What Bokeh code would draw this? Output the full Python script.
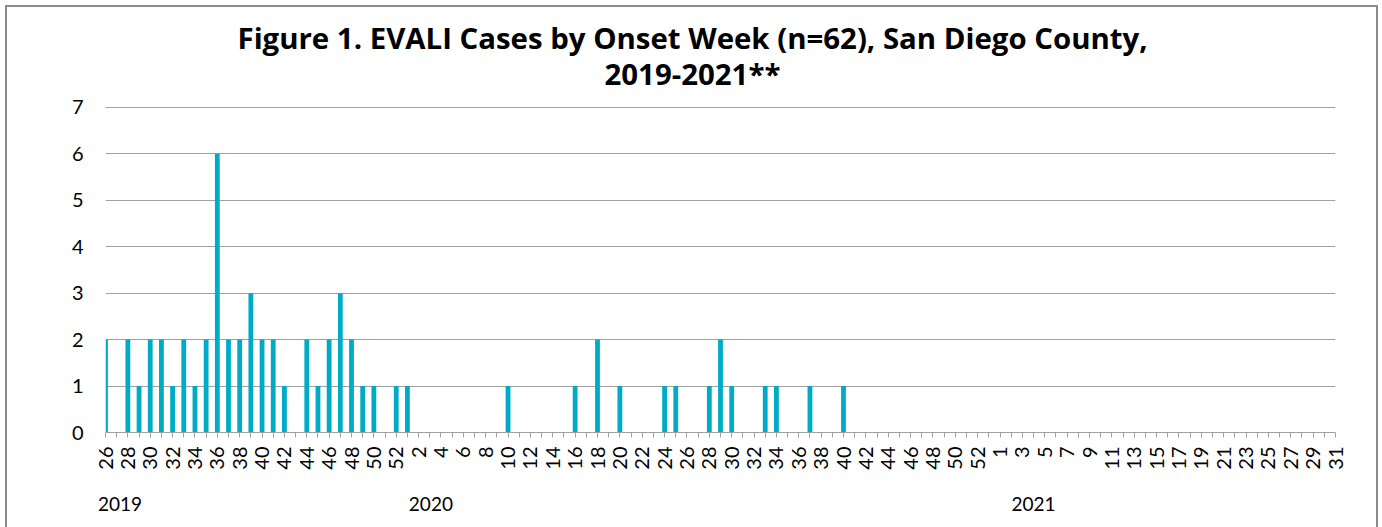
import math
from bokeh.plotting import figure
from bokeh.models import Range1d, FixedTicker, LinearAxis, Title, ColumnDataSource
from bokeh.embed import file_html
from bokeh.resources import INLINE

# ---- data ----
weeks_2019 = list(range(26, 53))
weeks_2020 = list(range(1, 54))
weeks_2021 = list(range(1, 32))

cases_2019 = [2, 0, 2, 1, 2, 2, 1, 2, 1, 2, 6, 2, 2, 3, 2, 2, 1, 0, 2, 1, 2, 3, 2, 1, 1, 0, 1]
cases_2020 = [1, 0, 0, 0, 0, 0, 0, 0, 0, 1,
              0, 0, 0, 0, 0, 1, 0, 2, 0, 1,
              0, 0, 0, 1, 1, 0, 0, 1, 2, 1,
              0, 0, 1, 1, 0, 0, 1, 0, 0, 1,
              0, 0, 0, 0, 0, 0, 0, 0, 0, 0, 0, 0, 0]
cases_2021 = [0, 0, 0, 0, 0, 0, 0, 0, 0, 0,
              0, 0, 0, 0, 0, 0, 0, 0, 0, 0,
              0, 0, 0, 0, 0, 0, 0, 0, 0, 0, 0]

years = ["2019", "2020", "2021"]
title_line1 = "Figure 1. EVALI Cases by Onset Week (n=62), San Diego County,"
title_line2 = "2019-2021**"

# ---- derived ----
week_labels = [str(w) for w in weeks_2019 + weeks_2020 + weeks_2021]
cases = cases_2019 + cases_2020 + cases_2021
idx = list(range(len(cases)))
src = ColumnDataSource(dict(x=idx, cases=cases, week=week_labels))

FONT = "Lato"
TFONT = "Open Sans"
GRAY = "#a0a0a0"

p = figure(width=1369, height=520, output_backend="svg", toolbar_location=None,
           x_range=Range1d(0, len(cases) - 1), y_range=Range1d(0, 7.02),
           min_border_left=98, min_border_right=41, min_border_top=99, min_border_bottom=95,
           title=title_line1)
p.styles = {"margin-left": "7px", "margin-top": "7px", "outline": "2px solid #8c8c8c"}
p.outline_line_color = None
p.background_fill_color = "white"
p.border_fill_color = "white"

p.vbar(x="x", top="cases", width=0.43, source=src, color="#00abc8", line_color=None)

# title lines
p.title.text_font = TFONT
p.title.text_font_size = "29.4px"
p.title.text_font_style = "bold"
p.title.text_color = "black"
p.title.align = "left"
p.title.offset = 132
p.title.standoff = -37
t2 = Title(text=title_line2, text_font=TFONT, text_font_size="29.4px", text_font_style="bold",
           text_color="black", align="left", offset=499, standoff=25)
p.add_layout(t2, "above")

# y axis
p.yaxis.ticker = FixedTicker(ticks=list(range(0, 8)))
p.yaxis.axis_line_color = None
p.yaxis.major_tick_line_color = None
p.yaxis.minor_tick_line_color = None
p.yaxis.major_label_text_font = FONT
p.yaxis.major_label_text_font_size = "20px"
p.yaxis.major_label_text_color = "black"
p.yaxis.major_label_standoff = 16
p.ygrid.ticker = FixedTicker(ticks=list(range(1, 8)))
p.ygrid.grid_line_color = GRAY
p.ygrid.grid_line_width = 1
p.xgrid.grid_line_color = None

# x axis (weeks)
xa = p.xaxis[0]
xa.ticker = FixedTicker(ticks=idx)
xa.major_label_overrides = {i: (lab if i % 2 == 0 else "") for i, lab in zip(idx, week_labels)}
xa.major_label_orientation = math.pi / 2
xa.axis_line_color = GRAY
xa.axis_line_width = 1
xa.major_tick_line_color = GRAY
xa.major_tick_out = 5
xa.major_tick_in = 0
xa.minor_tick_line_color = None
xa.major_label_text_font = FONT
xa.major_label_text_font_size = "20px"
xa.major_label_text_color = "black"
xa.major_label_standoff = 9

# year labels as a second axis below
year_pos = [1.3, 29.1, 83.0]
ya = LinearAxis(ticker=FixedTicker(ticks=year_pos),
                major_label_overrides={pos: y for pos, y in zip(year_pos, years)},
                axis_line_color=None, major_tick_line_color=None, minor_tick_line_color=None,
                major_label_text_font=FONT, major_label_text_font_size="19px",
                major_label_text_color="black", major_label_standoff=18)
p.add_layout(ya, "below")

open("out.html", "w").write(file_html(p, INLINE))
